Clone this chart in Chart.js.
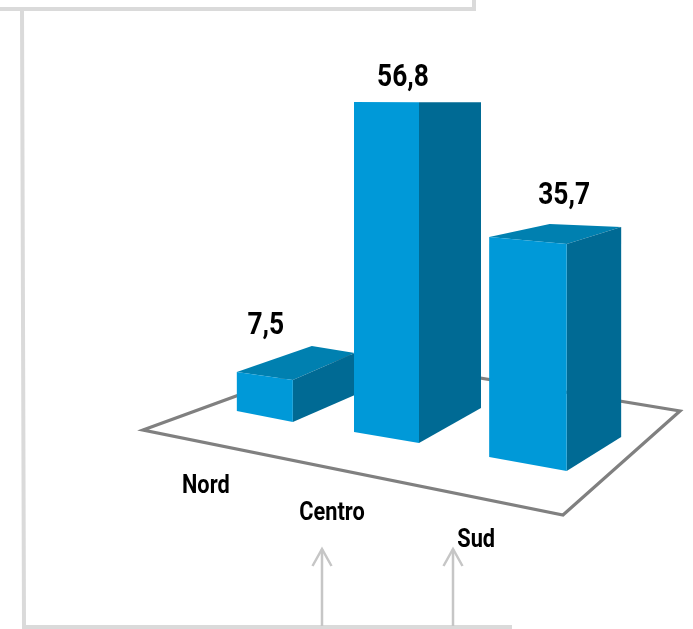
<!DOCTYPE html>
<html>
<head>
<meta charset="utf-8">
<style>
  html, body { margin: 0; padding: 0; background: #fff; }
  canvas { display: block; }
</style>
<script src="https://cdn.jsdelivr.net/npm/chart.js@4"></script>
</head>
<body>
<canvas id="barChart" width="693" height="629"></canvas>
<script>
const categories = ['Nord', 'Centro', 'Sud'];
const values = [7.5, 56.8, 35.7];

// perspective of each box, in pixels relative to the bar the library placed
const boxes = [
  { left: -59, mid: -3, right: 59, lift: 21, scale: 0.933, dropL: 11, dropR: 27, kL: 0.93, kR: 1, backX: 13, backY: 34, labelX: -30, labelY: 12, catX: -90, catY: 50 },
  { left: -71.5, mid: -6.5, right: 55.5, lift: 0, scale: 1, dropL: 11, dropR: 35, kL: 0.968, kR: 0.897, backX: 0, backY: 0, labelX: -22.5, labelY: 16, catX: -93.5, catY: 77 },
  { left: -66, mid: 11.5, right: 66, lift: -28, scale: 1.06, dropL: 14, dropR: 34, kL: 0.969, kR: 0.925, backX: 6, backY: 20, labelX: 9, labelY: 20, catX: -79, catY: 104 }
];

const FRONT = '#0099d8';
const SIDE = '#006a94';
const TOP = '#0080b0';
const VALUE_FONT = '700 31px Roboto';
const CAT_FONT = '700 25px Roboto';

function poly(ctx, color, pts) {
  ctx.fillStyle = color;
  ctx.beginPath();
  pts.forEach((p, i) => i ? ctx.lineTo(p[0], p[1]) : ctx.moveTo(p[0], p[1]));
  ctx.closePath();
  ctx.fill();
}

function stroke(ctx, color, width, pts, closed) {
  ctx.strokeStyle = color;
  ctx.lineWidth = width;
  ctx.beginPath();
  pts.forEach((p, i) => i ? ctx.lineTo(p[0], p[1]) : ctx.moveTo(p[0], p[1]));
  if (closed) ctx.closePath();
  ctx.stroke();
}

// the original type is condensed, so squeeze Roboto sideways
function narrowText(ctx, text, x, y, font, squeeze) {
  ctx.save();
  ctx.font = font;
  ctx.fillStyle = '#000';
  ctx.textAlign = 'center';
  ctx.textBaseline = 'alphabetic';
  ctx.translate(x, y);
  ctx.scale(squeeze, 1);
  ctx.fillText(text, 0, 0);
  ctx.restore();
}

// page decoration behind the chart: frame, arrows and the floor
const backdrop = {
  id: 'backdrop',
  beforeDatasetsDraw(chart) {
    const ctx = chart.ctx;
    ctx.save();
    ctx.lineJoin = 'miter';
    stroke(ctx, '#dadada', 4, [[0, 9], [474, 9], [474, 0]]);
    stroke(ctx, '#dadada', 4, [[22, 9], [24, 627], [512, 627]]);
    [322, 453].forEach(x => {
      stroke(ctx, '#c6c6c6', 2.5, [[x, 549], [x, 626]]);
      stroke(ctx, '#c6c6c6', 2.5, [[x - 9.5, 566], [x, 549], [x + 9.5, 566]]);
    });
    stroke(ctx, '#808080', 3.2, [[143, 430], [346, 356], [680, 411], [563, 515]], true);
    ctx.restore();
  }
};

// draws every bar as a box from the element the bar controller laid out
const boxBars = {
  id: 'boxBars',
  beforeDatasetDraw(chart, args) {
    const ctx = chart.ctx;
    ctx.save();
    args.meta.data.forEach((bar, i) => {
      const b = boxes[i];
      const h = (bar.base - bar.y) * b.scale;
      const xL = bar.x + b.left, xM = bar.x + b.mid, xR = bar.x + b.right;
      const floorM = bar.base - b.lift;
      const floorL = floorM - b.dropL, floorR = floorM - b.dropR;
      const topM = floorM - h, topL = floorL - h * b.kL, topR = floorR - h * b.kR;
      const backX = xL + (xR - xM) + b.backX, backY = topM - b.backY;

      poly(ctx, TOP, [[xL, topL], [backX, backY], [xR, topR], [xM, topM]]);
      poly(ctx, SIDE, [[xM, topM], [xR, topR], [xR, floorR], [xM, floorM]]);
      poly(ctx, FRONT, [[xL, topL], [xM, topM], [xM, floorM], [xL, floorL]]);

      const label = String(values[i]).replace('.', ',');
      narrowText(ctx, label, bar.x + b.labelX, backY - b.labelY, VALUE_FONT, 0.85);
      narrowText(ctx, chart.scales.x.getLabelForValue(i), bar.x + b.catX, bar.base + b.catY, CAT_FONT, 0.87);
    });
    ctx.restore();
    return false;
  }
};

new Chart(document.getElementById('barChart').getContext('2d'), {
  type: 'bar',
  data: {
    labels: categories,
    datasets: [{
      data: values,
      backgroundColor: FRONT,
      barPercentage: 1,
      categoryPercentage: 1
    }]
  },
  options: {
    responsive: false,
    animation: false,
    layout: { padding: { top: 83, bottom: 186, left: 231, right: 73 } },
    plugins: { legend: { display: false }, tooltip: { enabled: false } },
    scales: {
      x: { display: false },
      y: { display: false, min: 0, max: 60 }
    }
  },
  plugins: [backdrop, boxBars]
});
</script>
</body>
</html>
